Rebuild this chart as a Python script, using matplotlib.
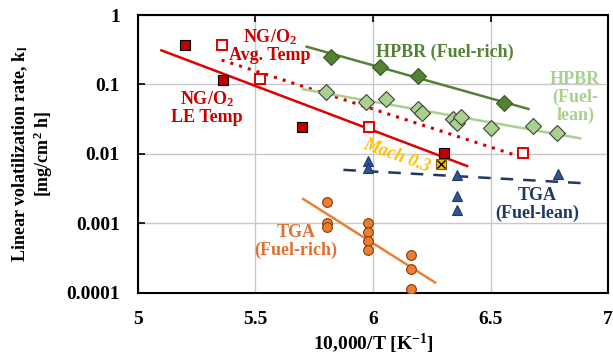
import numpy as np
import matplotlib.pyplot as plt

plt.rcParams['font.family'] = ['Liberation Serif', 'DejaVu Serif']
plt.rcParams['font.weight'] = 'bold'
plt.rcParams['mathtext.fontset'] = 'custom'
plt.rcParams['mathtext.rm'] = 'Liberation Serif:bold'
plt.rcParams['mathtext.it'] = 'Liberation Serif:bold'

# NG/O2 burner rig, leading-edge temperature (filled squares)
le_x = [5.20, 5.36, 5.70, 6.30]
le_y = [0.366, 0.117, 0.0245, 0.0104]
le_fit_x = [5.10, 6.40]
le_fit_y = [0.31, 0.0067]

# NG/O2 burner rig, average temperature (open squares)
avg_x = [5.356, 5.52, 5.983, 6.64]
avg_y = [0.37, 0.12, 0.0247, 0.0102]
avg_fit_x = [5.356, 6.61]
avg_fit_y = [0.225, 0.0095]

# Mach 0.3
mach_x = [6.29]
mach_y = [0.0072]

# HPBR fuel-rich
hr_x = [5.82, 6.03, 6.19, 6.557]
hr_y = [0.251, 0.18, 0.134, 0.0536]
hr_fit_x = [5.718, 6.661]
hr_fit_y = [0.35, 0.0444]

# HPBR fuel-lean
hl_x = [5.80, 5.97, 6.054, 6.19, 6.207, 6.342, 6.356, 6.373, 6.50, 6.682, 6.782]
hl_y = [0.0773, 0.0566, 0.0612, 0.044, 0.0385, 0.0316, 0.0282, 0.0337, 0.0234, 0.0253, 0.0203]
hl_fit_x = [5.703, 6.881]
hl_fit_y = [0.0853, 0.0168]

# TGA fuel-lean
tl_x = [5.98, 5.98, 6.356, 6.356, 6.356, 6.789]
tl_y = [0.0078, 0.0063, 0.00499, 0.00249, 0.00156, 0.0051]
tl_fit_x = [5.874, 6.895]
tl_fit_y = [0.0059, 0.00379]

# TGA fuel-rich
tr_x = [5.803, 5.803, 5.803, 5.977, 5.977, 5.977, 5.977, 6.162, 6.162, 6.162]
tr_y = [0.00202, 0.001, 0.0009, 0.001, 0.00074, 0.00056, 0.000415, 0.000348, 0.000221, 0.000113]
tr_fit_x = [5.703, 6.264]
tr_fit_y = [0.00225, 0.000141]

fig = plt.figure(figsize=(6.13, 3.58), dpi=100)
ax = fig.add_axes([0.225, 0.182, 0.767, 0.776])

ax.plot(le_fit_x, le_fit_y, color='#E00000', lw=1.8, zorder=2)
ax.plot(avg_fit_x, avg_fit_y, color='#D00000', lw=2.2, ls=(0, (1, 2)), zorder=2)
ax.plot(hr_fit_x, hr_fit_y, color='#548235', lw=1.8, zorder=2)
ax.plot(hl_fit_x, hl_fit_y, color='#A9D18E', lw=1.8, zorder=2)
ax.plot(tl_fit_x, tl_fit_y, color='#1F3864', lw=1.8, ls=(0, (5, 4)), zorder=2)
ax.plot(tr_fit_x, tr_fit_y, color='#ED7D31', lw=1.8, zorder=2)

ax.plot(le_x, le_y, 's', ms=7, mfc='#C00000', mec='black', mew=0.8, zorder=3)
ax.plot(avg_x, avg_y, 's', ms=7, mfc='white', mec='#E00000', mew=1.4, zorder=3)
ax.plot(mach_x, mach_y, 's', ms=7, mfc='#FFC000', mec='#7F6000', mew=0.8, zorder=3)
ax.plot(mach_x, mach_y, 'x', ms=6, color='black', mew=1.0, zorder=4)
ax.plot(hr_x, hr_y, 'D', ms=8, mfc='#548235', mec='#385723', mew=0.8, zorder=3)
ax.plot(hl_x, hl_y, 'D', ms=8, mfc='#A9D18E', mec='#404040', mew=0.8, zorder=3)
ax.plot(tl_x, tl_y, '^', ms=7.5, mfc='#2F5597', mec='#1F3864', mew=0.8, zorder=3)
ax.plot(tr_x, tr_y, 'o', ms=7, mfc='#ED7D31', mec='#843C0C', mew=0.8, zorder=3)

ax.set_yscale('log')
ax.set_xlim(5, 7)
ax.set_ylim(0.0001, 1)
ax.set_xticks([5, 5.5, 6, 6.5, 7])
ax.set_xticklabels(['5', '5.5', '6', '6.5', '7'])
ax.set_yticks([0.0001, 0.001, 0.01, 0.1, 1])
ax.set_yticklabels(['0.0001', '0.001', '0.01', '0.1', '1'])
ax.minorticks_off()
ax.grid(True, color='#C8C8C8', lw=1.0)
ax.set_axisbelow(True)
ax.tick_params(axis='both', labelsize=14, direction='in', length=5, width=1.2)
ax.tick_params(axis='x', top=True, bottom=False, pad=13)
ax.tick_params(axis='y', pad=13)
for s in ax.spines.values():
    s.set_linewidth(1.5)

ax.set_xlabel('10,000/T [K$^{-1}$]', fontsize=14, fontweight='bold', labelpad=3)
ax.set_ylabel('Linear volatilization rate, k$_\\mathrm{l}$\n[mg/cm$^2$ h]', fontsize=13,
              fontweight='bold', linespacing=1.1, labelpad=8)

ax.text(5.56, 0.36, 'NG/O$_2$\nAvg. Temp', color='#C80000', fontsize=13, fontweight='bold',
        ha='center', va='center', linespacing=1.0)
ax.text(5.295, 0.047, 'NG/O$_2$\nLE Temp', color='#C80000', fontsize=13, fontweight='bold',
        ha='center', va='center', linespacing=1.0)
ax.text(6.306, 0.294, 'HPBR (Fuel-rich)', color='#548235', fontsize=13, fontweight='bold',
        ha='center', va='center')
ax.text(6.86, 0.064, 'HPBR\n(Fuel-\nlean)', color='#A9D18E', fontsize=13, fontweight='bold',
        ha='center', va='center', linespacing=1.05)
ax.text(6.10, 0.0093, 'Mach 0.3', color='#FFC000', fontsize=13, fontweight='bold',
        style='italic', ha='center', va='center', rotation=-20)
ax.text(6.70, 0.0019, 'TGA\n(Fuel-lean)', color='#1F3864', fontsize=13, fontweight='bold',
        ha='center', va='center', linespacing=1.05)
ax.text(5.672, 0.00054, 'TGA\n(Fuel-rich)', color='#E07030', fontsize=13, fontweight='bold',
        ha='center', va='center', linespacing=1.05)

fig.savefig('out.png', dpi=100)
